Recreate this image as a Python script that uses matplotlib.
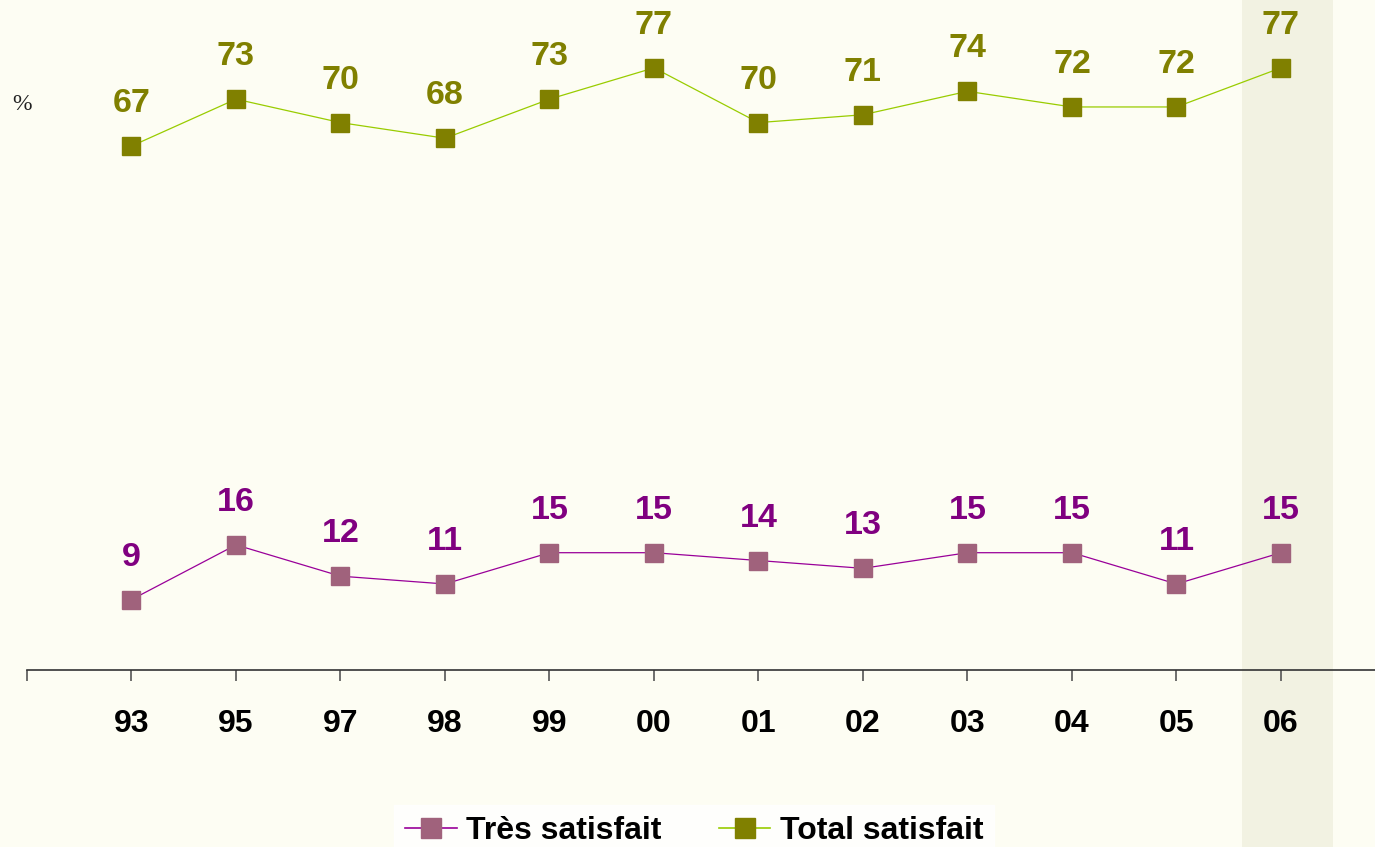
import matplotlib
matplotlib.use("Agg")
import matplotlib.pyplot as plt
from matplotlib.patches import Rectangle
from matplotlib.lines import Line2D
from matplotlib.font_manager import FontProperties
import matplotlib.transforms as mtransforms

years = ["93", "95", "97", "98", "99", "00", "01", "02", "03", "04", "05", "06"]
tres_satisfait = [9, 16, 12, 11, 15, 15, 14, 13, 15, 15, 11, 15]
total_satisfait = [67, 73, 70, 68, 73, 77, 70, 71, 74, 72, 72, 77]
legend_labels = ["Très satisfait", "Total satisfait"]

bg = "#FDFDF3"
bold = FontProperties(family="Liberation Sans", weight="bold", size=23)
bold_lab = FontProperties(family="Liberation Sans", weight="bold", size=24.5)

fig = plt.figure(figsize=(13.75, 8.47), dpi=100, facecolor=bg)
ax = fig.add_axes([27/1375, 1 - 670/847, 1 - 27/1375, 670/847])
ax.set_facecolor("none")
x = list(range(len(years)))

# highlight band for the last year (spans full figure height)
trans = mtransforms.blended_transform_factory(ax.transData, fig.transFigure)
ax.add_patch(Rectangle((10.63, 0), 0.87, 1, transform=trans,
                       facecolor="#F2F2E2", edgecolor="none", zorder=0,
                       clip_on=False))

ax.plot(x, total_satisfait, color="#99CC00", lw=0.9, marker="s", ms=12.5,
        mfc="#808000", mec="#808000", zorder=3)
ax.plot(x, tres_satisfait, color="#990099", lw=0.9, marker="s", ms=12.5,
        mfc="#A0627C", mec="#A0627C", zorder=3)

for xi, v in zip(x, total_satisfait):
    ax.annotate(str(v), (xi, v), xytext=(0, 30.5), textcoords="offset points",
                ha="center", va="center", fontproperties=bold_lab,
                color="#808000")
for xi, v in zip(x, tres_satisfait):
    ax.annotate(str(v), (xi, v), xytext=(0, 30.5), textcoords="offset points",
                ha="center", va="center", fontproperties=bold_lab,
                color="#800080")

ax.set_xlim(-1, 11.9)
ax.set_ylim(0, 670 / 7.82)
for s in ["top", "right", "left"]:
    ax.spines[s].set_visible(False)
ax.spines["bottom"].set_color("#333333")
ax.spines["bottom"].set_linewidth(1.2)
ax.set_yticks([])
ax.set_xticks([-1] + x)
ax.set_xticklabels([""] + years)
for lab in ax.get_xticklabels():
    lab.set_fontproperties(bold)
ax.tick_params(axis="x", direction="out", length=8, width=1.2,
               color="#555555", pad=20)

fig.text(22/1375, 1 - 105/847, "%", fontsize=17, family="Liberation Serif",
         ha="center", va="center", color="#222222")

handles = [
    Line2D([], [], color="#990099", lw=1.2, marker="s", ms=14,
           mfc="#A0627C", mec="#A0627C"),
    Line2D([], [], color="#99CC00", lw=1.2, marker="s", ms=14,
           mfc="#808000", mec="#808000"),
]
leg = fig.legend(handles, legend_labels, loc="upper center",
                 bbox_to_anchor=(0.505, 1 - 805/847), ncol=2,
                 prop=bold, frameon=True, fancybox=False, handlelength=1.6,
                 handletextpad=0.3, columnspacing=1.8, borderpad=0.35,
                 borderaxespad=0)
leg.get_frame().set_facecolor("white")
leg.get_frame().set_edgecolor("white")

fig.savefig("out.png", dpi=100, facecolor=bg)
